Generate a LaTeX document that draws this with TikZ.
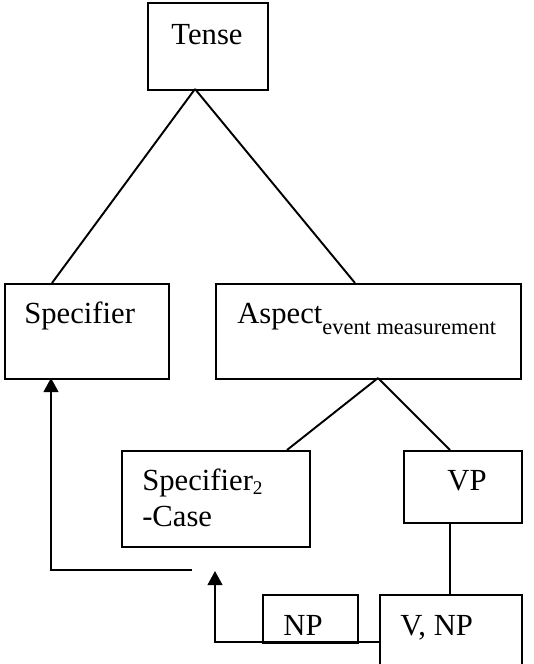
\documentclass[tikz,border=0pt]{standalone}
\usepackage{fontspec}
\setmainfont{Liberation Serif}
\usetikzlibrary{arrows.meta}
\begin{document}
\begin{tikzpicture}[x=0.75pt,y=-0.75pt,
  box/.style={draw,line width=1.45pt,rectangle,inner sep=0pt,anchor=north west},
  lbl/.style={inner sep=0pt,font=\fontsize{23}{27}\selectfont},
  edge/.style={line width=1.45pt},
  arr/.style={line width=1.45pt,-{Triangle[width=11pt,length=10.5pt]}}]
\useasboundingbox (0,0) rectangle (534,664);
\clip (0,0) rectangle (534,664);
% boxes
\node[box,minimum width=120*0.75pt,minimum height=87*0.75pt] (tense) at (147,2) {};
\node[box,minimum width=164*0.75pt,minimum height=95*0.75pt] (spec) at (4,283) {};
\node[box,minimum width=305*0.75pt,minimum height=95*0.75pt] (asp) at (215,283) {};
\node[box,minimum width=188*0.75pt,minimum height=96*0.75pt] (spec2) at (121,450) {};
\node[box,minimum width=118*0.75pt,minimum height=72*0.75pt] (vp) at (403,450) {};
\node[box,minimum width=95*0.75pt,minimum height=48*0.75pt] (np) at (262,594) {};
\node[box,minimum width=142*0.75pt,minimum height=110*0.75pt] (vnp) at (379,594) {};
% labels
\node[lbl,anchor=base] (tenseT) at (207,44) {Tense};
\node[lbl,anchor=base west] (specT) at (24,323) {Specifier};
\node[lbl,anchor=base west] (aspT) at (237,323) {Aspect\raisebox{-8.5pt}{\fontsize{16.8}{18}\selectfont event measurement}};
\node[lbl,anchor=base west] (spec2T) at (142,490) {Specifier\raisebox{-3pt}{\fontsize{14.5}{16}\selectfont 2}};
\node[lbl,anchor=base west] (caseT) at (142,526) {-Case};
\node[lbl,anchor=base] (vpT) at (467,490) {VP};
\node[lbl,anchor=base] (npT) at (303,635) {NP};
\node[lbl,anchor=base west] (vnpT) at (400,635) {V, NP};
% tree lines
\coordinate (tb) at (195,89);
\coordinate (ab) at (378,378);
\draw[edge] (tb) -- (52,283);
\draw[edge] (tb) -- (355,283);
\draw[edge] (ab) -- (287,450);
\draw[edge] (ab) -- (450,450);
\draw[edge] (450,522) -- (450,594);
% arrows
\coordinate (a1s) at (192,570);
\draw[arr] (a1s) -- (51,570) -- (51,378);
\coordinate (a2t) at (215,571);
\draw[arr] (vnp.west |- 0,642) -- (215,642) -- (a2t);
\end{tikzpicture}
\end{document}
